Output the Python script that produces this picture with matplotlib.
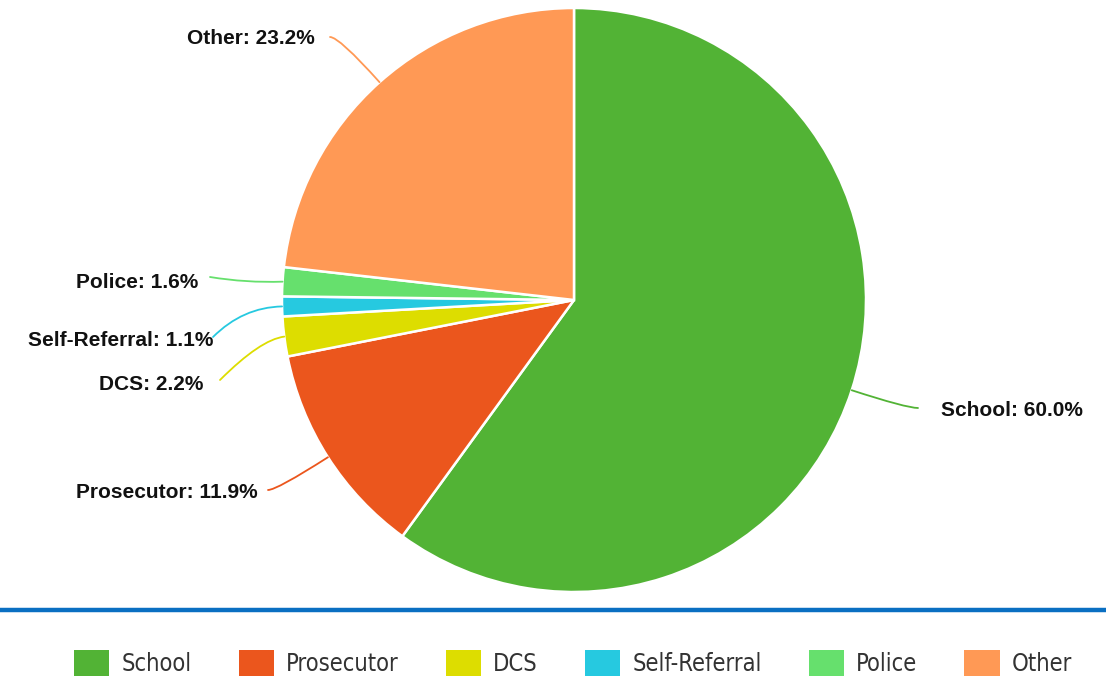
import numpy as np
import matplotlib
matplotlib.use("Agg")
import matplotlib.pyplot as plt
from matplotlib.patches import Patch

# data
categories = ['School', 'Prosecutor', 'DCS', 'Self-Referral', 'Police', 'Other']
shares = [60.0, 11.9, 2.2, 1.1, 1.6, 23.2]
colors = ['#52b335', '#eb561d', '#dddd00', '#26c9e0', '#66e06d', '#ff9955']

W, H = 1106, 679
fig = plt.figure(figsize=(W / 100, H / 100), dpi=100)
ax = fig.add_axes([0, 0, 1, 1])

# pie geometry in pixels (y measured from the top of the image)
cx, cy, R = 574, 300, 292


def py(y):
    return H - y


ax.pie(shares, colors=colors, startangle=90, counterclock=False,
       center=(cx, py(cy)), radius=R,
       wedgeprops=dict(edgecolor='white', linewidth=1.8))

# label layout: text anchor, leader end, angle of leader at the label end
label_layout = {
    'School':        dict(tx=941, ty=411, ha='left',  ex=918, ey=408, angA=0),
    'Prosecutor':    dict(tx=258, ty=492, ha='right', ex=268, ey=490, angA=0),
    'DCS':           dict(tx=203, ty=385, ha='right', ex=220, ey=380, angA=45),
    'Self-Referral': dict(tx=213, ty=340, ha='right', ex=213, ey=337, angA=45),
    'Police':        dict(tx=198, ty=282, ha='right', ex=210, ey=277, angA=None),
    'Other':         dict(tx=315, ty=39,  ha='right', ex=330, ey=37,  angA=0),
}

cum = np.cumsum([0] + shares[:-1])
for name, val, start, col in zip(categories, shares, cum, colors):
    mid = (start + val / 2) / 100 * 360  # clockwise from top
    theta = np.deg2rad(90 - mid)
    ax_x = cx + R * np.cos(theta)
    ax_y = py(cy) + R * np.sin(theta)
    lay = label_layout[name]
    radial = np.rad2deg(theta) % 360
    if lay['angA'] is None:
        cs = 'arc3,rad=0.05'
    else:
        cs = f"angle3,angleA={lay['angA']},angleB={radial:.1f}"
    ax.annotate('', xy=(ax_x, ax_y), xytext=(lay['ex'], py(lay['ey'])),
                arrowprops=dict(arrowstyle='-', color=col, lw=1.3,
                                connectionstyle=cs, shrinkA=0, shrinkB=0))
    ax.text(lay['tx'], py(lay['ty']), f'{name}: {val:.1f}%',
            ha=lay['ha'], va='center', fontsize=15, fontweight='bold',
            family='Liberation Sans', color='#111111')

# blue separator line
ax.plot([0, W], [py(610), py(610)], color='#0a6fc2', lw=3.2,
        solid_capstyle='butt')

ax.set_xlim(0, W)
ax.set_ylim(0, H)
ax.axis('off')

handles = [Patch(facecolor=c, edgecolor='none') for c in colors]
leg = fig.legend(handles, categories, ncol=6, loc='center',
                 bbox_to_anchor=(573 / W, (H - 663) / H), frameon=False,
                 handlelength=1.5, handleheight=1.3, handletextpad=0.5,
                 columnspacing=2.0,
                 prop=dict(family='DejaVu Sans', stretch='condensed', size=17))
for t in leg.get_texts():
    t.set_color('#333333')

fig.savefig('out.png', dpi=100)
